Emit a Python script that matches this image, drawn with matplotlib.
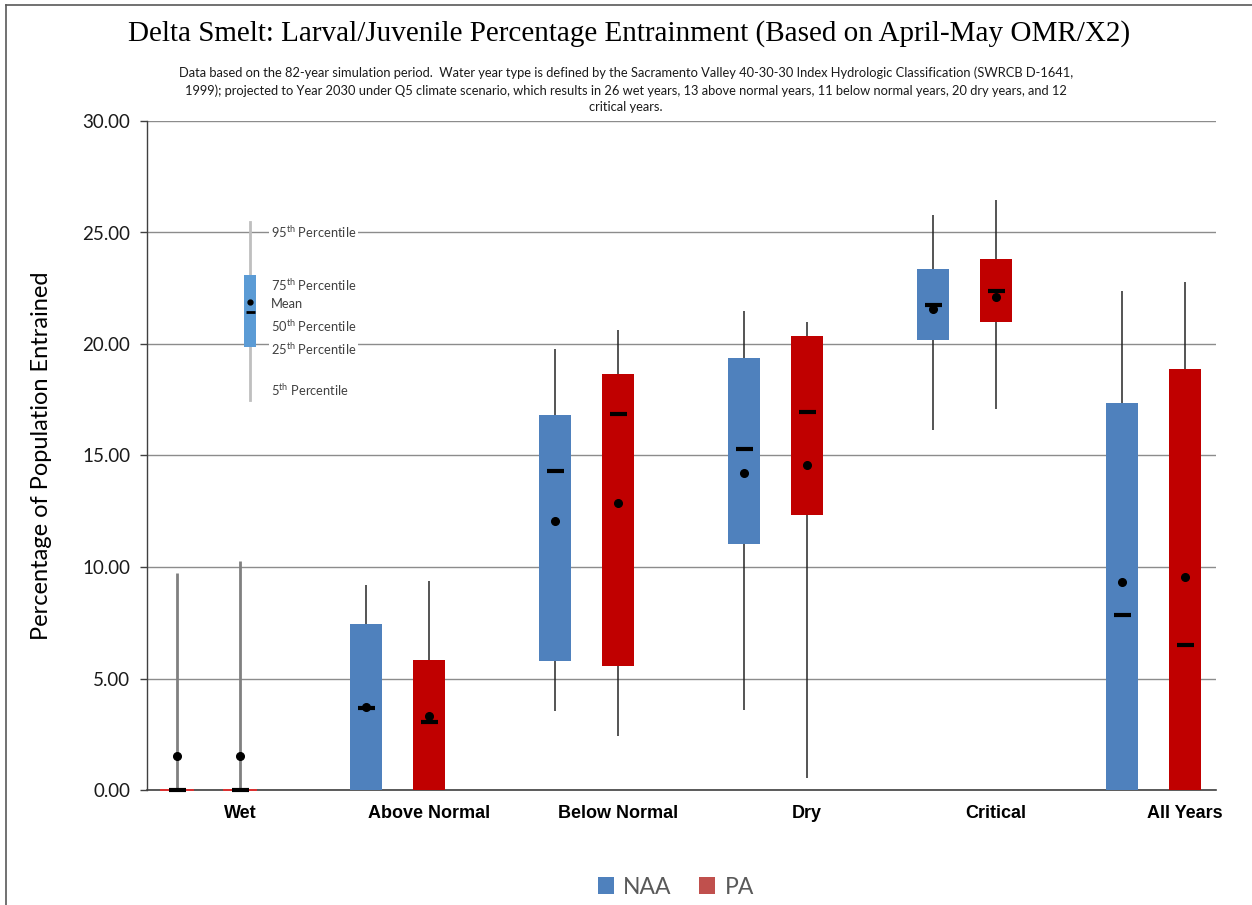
import matplotlib
matplotlib.use("Agg")
import matplotlib.pyplot as plt
from matplotlib.lines import Line2D
from matplotlib.patches import Rectangle

categories = ["Wet", "Above Normal", "Below Normal", "Dry", "Critical", "All Years"]
series = ["NAA", "PA"]

naa_p5 = [0.0, 0.0, 3.56, 3.59, 16.14, 0.0]
naa_p25 = [0.0, 0.0, 5.78, 11.05, 20.18, 0.0]
naa_p50 = [0.0, 3.69, 14.29, 15.29, 21.76, 7.85]
naa_p75 = [0.0, 7.43, 16.80, 19.39, 23.36, 17.34]
naa_p95 = [9.75, 9.19, 19.79, 21.48, 25.78, 22.38]
naa_mean = [1.52, 3.72, 12.06, 14.23, 21.55, 9.31]

pa_p5 = [0.0, 0.0, 2.42, 0.55, 17.07, 0.0]
pa_p25 = [0.0, 0.0, 5.56, 12.35, 21.00, 0.0]
pa_p50 = [0.0, 3.05, 16.86, 16.97, 22.36, 6.50]
pa_p75 = [0.0, 5.83, 18.67, 20.34, 23.79, 18.86]
pa_p95 = [10.25, 9.39, 20.63, 20.97, 26.46, 22.77]
pa_mean = [1.52, 3.33, 12.87, 14.56, 22.12, 9.54]

# inset key (example box)
key_p5, key_p25, key_p50, key_mean, key_p75, key_p95 = 17.5, 19.87, 21.43, 21.88, 23.09, 25.45
key_labels = ["95$^{\\mathrm{th}}$ Percentile", "75$^{\\mathrm{th}}$ Percentile", "Mean",
              "50$^{\\mathrm{th}}$ Percentile", "25$^{\\mathrm{th}}$ Percentile", "5$^{\\mathrm{th}}$ Percentile"]
key_label_y = [25.0, 22.63, 21.78, 20.8, 19.77, 17.93]

yticks = [0, 5, 10, 15, 20, 25, 30]

title = "Delta Smelt: Larval/Juvenile Percentage Entrainment (Based on April-May OMR/X2)"
subtitle = ("Data based on the 82-year simulation period.  Water year type is defined by the Sacramento Valley 40-30-30 Index Hydrologic Classification (SWRCB D-1641,\n"
            "1999); projected to Year 2030 under Q5 climate scenario, which results in 26 wet years, 13 above normal years, 11 below normal years, 20 dry years, and 12\n"
            "critical years.")

C_NAA = "#4F81BD"
C_PA = "#C00000"
C_PA_LEG = "#C0504D"
SANS = ["Lato", "DejaVu Sans"]
plt.rcParams["mathtext.fontset"] = "custom"
plt.rcParams["mathtext.rm"] = "Lato"

fig = plt.figure(figsize=(12.52, 9.05), dpi=100)
ax = fig.add_axes([147 / 1252, 1 - 790 / 905, (1216 - 147) / 1252, (790 - 121) / 905])

xmin = (147 - 240) / 189
xmax = (1216 - 240) / 189
ax.set_xlim(xmin, xmax)
ax.set_ylim(0, 30)

bw = 32 / 189
off = 63 / 189
medw = 17 / 189

groups = [
    (-off, C_NAA, naa_p5, naa_p25, naa_p50, naa_p75, naa_p95, naa_mean),
    (0.0, C_PA, pa_p5, pa_p25, pa_p50, pa_p75, pa_p95, pa_mean),
]

for dx, col, p5, p25, p50, p75, p95, mn in groups:
    for i in range(len(categories)):
        x = i + dx
        wet = (p75[i] - p25[i]) == 0
        wc = "#808080" if wet else "#262626"
        wl = 2.0 if wet else 1.1
        ax.plot([x, x], [p5[i], p95[i]], color=wc, lw=wl, zorder=3, solid_capstyle="butt")
        if wet:
            ax.plot([x - bw / 2, x + bw / 2], [p25[i], p25[i]], color="#E03030", lw=1.4, zorder=5,
                    clip_on=False)
        else:
            ax.add_patch(Rectangle((x - bw / 2, p25[i]), bw, p75[i] - p25[i], facecolor=col,
                                   edgecolor="none", zorder=4))
        ax.plot([x - medw / 2, x + medw / 2], [p50[i], p50[i]], color="black", lw=3.0,
                zorder=6, solid_capstyle="butt", clip_on=False)
        ax.plot([x], [mn[i]], marker="o", color="black", ms=5.5, zorder=7, linestyle="none")

# inset key
kx = (250 - 240) / 189
kw = 12 / 189
ax.plot([kx, kx], [key_p5, key_p95], color="#BFBFBF", lw=2.0, zorder=3)
ax.add_patch(Rectangle((kx - kw / 2, key_p25), kw, key_p75 - key_p25, facecolor="#5B9BD5",
                       edgecolor="none", zorder=4))
ax.plot([kx - 9 / 189 / 2, kx + 9 / 189 / 2], [key_p50, key_p50], color="black", lw=2.0, zorder=6,
        solid_capstyle="butt")
ax.plot([kx], [key_mean], marker="o", color="black", ms=3.5, zorder=7)
tx = (271 - 240) / 189
for lab, yy in zip(key_labels, key_label_y):
    ax.text(tx, yy, lab, fontsize=9.3, color="#404040", family=SANS, va="center", ha="left",
            zorder=8, bbox=dict(facecolor="white", edgecolor="none", pad=1.5))

# axes styling
ax.set_yticks(yticks)
ax.set_yticklabels([f"{v:.2f}" for v in yticks], fontsize=13.5, family=SANS, color="#1a1a1a")
ax.yaxis.grid(True, color="#8C8C8C", lw=1.0)
ax.set_axisbelow(True)
ax.tick_params(axis="y", direction="out", length=5, width=1, color="#404040", pad=7)
ax.set_xticks(range(len(categories)))
ax.set_xticklabels(categories, fontsize=13, fontweight="bold", family=["Liberation Sans", "DejaVu Sans"])
ax.tick_params(axis="x", length=0, pad=11)
for s in ["top", "right"]:
    ax.spines[s].set_visible(False)
ax.spines["left"].set_color("#404040")
ax.spines["bottom"].set_color("#404040")
ax.spines["left"].set_linewidth(1.0)
ax.spines["bottom"].set_linewidth(1.2)
ax.set_ylabel("Percentage of Population Entrained", fontsize=17, family=SANS, labelpad=22)

fig.text(629 / 1252, 1 - 34 / 905, title, ha="center", va="center", fontsize=21,
         family=["Liberation Serif", "DejaVu Serif"])
fig.text(626 / 1252, 1 - 90 / 905, subtitle, ha="center", va="center", fontsize=9.3,
         family=SANS, linespacing=1.45, color="#1a1a1a")

# legend
handles = [Rectangle((0, 0), 1, 1, facecolor=C_NAA, edgecolor="none"),
           Rectangle((0, 0), 1, 1, facecolor=C_PA_LEG, edgecolor="none")]
leg = fig.legend(handles, series, loc="center", bbox_to_anchor=(676 / 1252, 1 - 887 / 905), ncol=2,
                 frameon=False, prop={"family": SANS, "size": 16.5}, handlelength=0.7, handleheight=0.7,
                 handletextpad=0.4, columnspacing=1.2)
for t in leg.get_texts():
    t.set_color("#595959")

# outer border
fig.add_artist(Line2D([6 / 1252, 6 / 1252], [0, 1 - 5 / 905], color="#595959", lw=1.2,
                      transform=fig.transFigure))
fig.add_artist(Line2D([6 / 1252, 1], [1 - 5 / 905, 1 - 5 / 905], color="#595959", lw=1.2,
                      transform=fig.transFigure))

fig.savefig("out.png", dpi=100)
